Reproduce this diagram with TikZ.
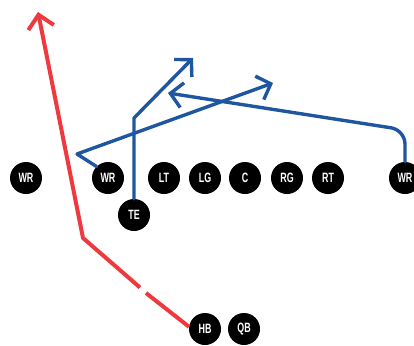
\documentclass[tikz,border=0pt]{standalone}
\usepackage{fontspec}
\usepackage{graphicx}
\setmainfont{Liberation Sans}
\usetikzlibrary{arrows.meta}
\definecolor{routeblue}{HTML}{1E56A0}
\definecolor{routered}{HTML}{EE3A3F}
\tikzset{
  player/.style={circle, fill=black, minimum size=32pt, inner sep=0pt, text=white,
    font=\fontsize{13.5}{13.5}\selectfont\bfseries},
  bluerte/.style={draw=routeblue, line width=3.4pt, line join=round, line cap=round},
  redrte/.style={draw=routered, line width=4pt, line join=round},
  barb/.style={-{Straight Barb[length=12pt,width=25pt,line width=3.4pt]}}
}
\newcommand{\plab}[1]{\scalebox{0.66}[1]{#1}}
\begin{document}
\begin{tikzpicture}[x=1pt,y=-1pt]
\useasboundingbox (0,0) rectangle (414,345);
\clip (0,0) rectangle (414,345);
% players
\node[player] (wr1) at (26,178) {\plab{WR}};
\node[player] (wr2) at (108,178) {\plab{WR}};
\node[player] (lt) at (164,178) {\plab{LT}};
\node[player] (lg) at (205,178) {\plab{LG}};
\node[player] (c) at (245,178) {\plab{C}};
\node[player] (rg) at (287,178) {\plab{RG}};
\node[player] (rt) at (328,178) {\plab{RT}};
\node[player] (wr3) at (405,178) {\plab{WR}};
\node[player] (te) at (134,215) {\plab{TE}};
\node[player] (hb) at (205,329) {\plab{HB}};
\node[player] (qb) at (244,329) {\plab{QB}};
% route coordinates
\coordinate (w2b) at (77,154);
\coordinate (w2t) at (273,83);
\coordinate (teb) at (134,118);
\coordinate (tet) at (193,58);
\coordinate (w3c) at (405,130);
\coordinate (w3t) at (168,93);
\coordinate (rb) at (83,238);
\coordinate (rt1) at (38,12);
\coordinate (g1) at (140,287.5);
\coordinate (g2) at (146,293);
% blue routes
\draw[bluerte, barb] (wr2.135) -- (w2b) -- (w2t);
\draw[bluerte, barb] (te.north) -- (teb) -- (tet);
\draw[bluerte, barb, rounded corners=14pt] (wr3.north) -- (w3c) -- (w3t);
% red route
\draw[redrte] (hb.172) -- (g2);
\draw[redrte, -{Straight Barb[length=13pt,width=26pt,line width=4pt]}] (g1) -- (rb) -- (rt1);
\end{tikzpicture}
\end{document}
